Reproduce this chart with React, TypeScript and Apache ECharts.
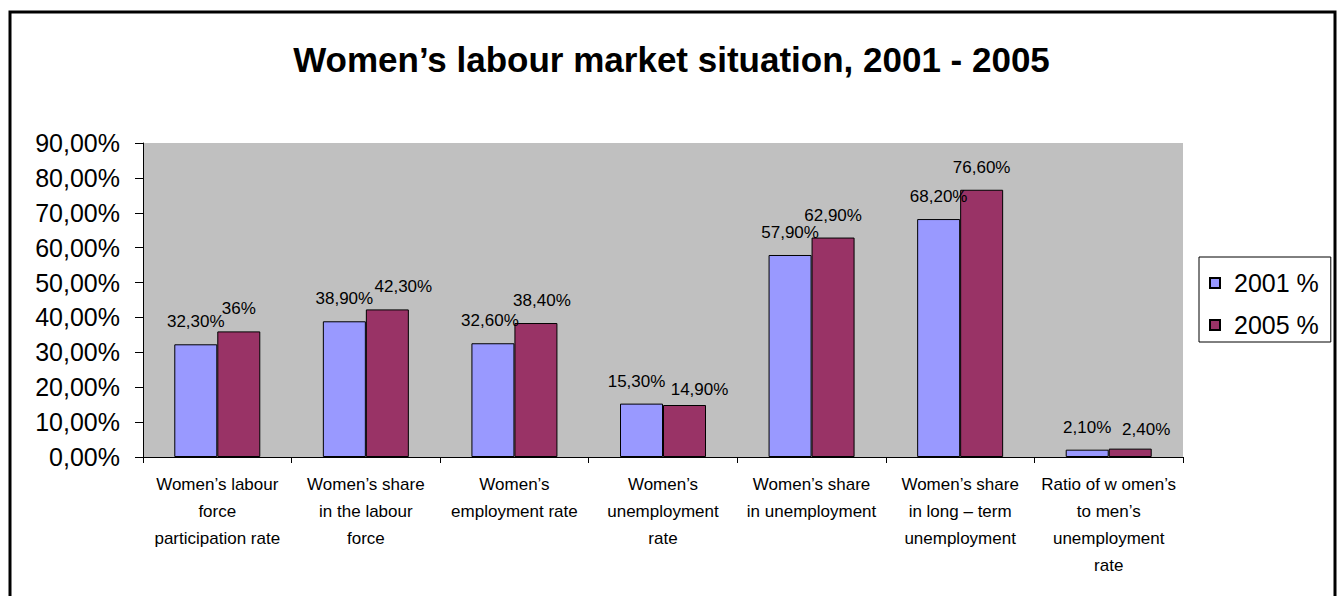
import React, { useEffect, useRef } from "react";
import * as echarts from "echarts";

const categories = [
  "Women\u2019s labour\nforce\nparticipation rate",
  "Women\u2019s share\nin the labour\nforce",
  "Women\u2019s\nemployment rate",
  "Women\u2019s\nunemployment\nrate",
  "Women\u2019s share\nin unemployment",
  "Women\u2019s share\nin long \u2013 term\nunemployment",
  "Ratio of w omen\u2019s\nto men\u2019s\nunemployment\nrate",
];
const series2001 = [32.3, 38.9, 32.6, 15.3, 57.9, 68.2, 2.1];
const series2005 = [36, 42.3, 38.4, 14.9, 62.9, 76.6, 2.4];
const seriesNames = ["2001 %", "2005 %"];
const yMin = 0;
const yMax = 90;
const yStep = 10;
const titleText = "Women\u2019s labour market situation, 2001 - 2005";

// label nudges (style only): [dx, dy] in pixels, mimicking the original's overlap handling
const labelNudge2001 = [[0, 0], [0, 0], [-3, 0], [-5, 0], [0, 0], [0, 0], [0, 0]];
const labelNudge2005 = [[0, 0], [16, 0], [6, 0], [15, 7], [0, 0], [0, 0], [16, 3]];

const FONT = "'Liberation Sans', Arial, sans-serif";

function fmtValue(v: number): string {
  if (Number.isInteger(v)) return `${v}%`;
  return v.toFixed(2).replace(".", ",") + "%";
}

export default function App() {
  const ref = useRef<HTMLDivElement>(null);
  useEffect(() => {
    if (!ref.current) return;
    const chart = echarts.init(ref.current, undefined, { renderer: "svg" });
    const label = {
      show: true,
      position: "top" as const,
      distance: 14,
      fontSize: 17,
      fontFamily: FONT,
      color: "#000",
      formatter: (p: any) => fmtValue(p.value),
    };
    const mk = (vals: number[], nudges: number[][]) =>
      vals.map((v, i) => ({ value: v, label: { offset: nudges[i] } }));
    chart.setOption({
      animation: false,
      backgroundColor: "#fff",
      textStyle: { fontFamily: FONT },
      title: {
        text: titleText,
        left: "center",
        top: 37,
        textStyle: { fontSize: 35, fontWeight: "bold", color: "#000", fontFamily: FONT },
      },
      graphic: [
        {
          type: "rect",
          shape: { x: 10, y: 12, width: 1325, height: 600 },
          style: { fill: "none", stroke: "#000", lineWidth: 3 },
          silent: true,
        },
      ],
      legend: {
        orient: "vertical",
        left: 1199,
        top: 257,
        padding: [13, 12, 4, 10],
        itemGap: 16,
        itemWidth: 10,
        itemHeight: 10,
        icon: "rect",
        borderColor: "#000",
        borderWidth: 1,
        textStyle: { fontSize: 25, lineHeight: 26, color: "#000", fontFamily: FONT, padding: [0, 0, 0, 9] },
        data: seriesNames,
      },
      grid: { left: 143, top: 143, right: 160, bottom: 139, show: true, backgroundColor: "#C0C0C0", borderWidth: 0 },
      xAxis: {
        type: "category",
        data: categories,
        axisLine: { show: true, lineStyle: { color: "#000", width: 1 } },
        axisTick: { show: true, alignWithLabel: false, length: 6, lineStyle: { color: "#000" } },
        axisLabel: {
          interval: 0,
          fontSize: 17,
          lineHeight: 27,
          margin: 14,
          color: "#000",
          fontFamily: FONT,
          align: "center",
        },
      },
      yAxis: {
        type: "value",
        min: yMin,
        max: yMax,
        interval: yStep,
        splitLine: { show: false },
        axisLine: { show: true, lineStyle: { color: "#000", width: 1 } },
        axisTick: { show: true, inside: false, length: 8, lineStyle: { color: "#000" } },
        axisLabel: {
          fontSize: 25,
          color: "#000",
          fontFamily: FONT,
          margin: 23,
          formatter: (v: number) => v.toFixed(2).replace(".", ",") + "%",
        },
      },
      series: [
        {
          name: seriesNames[0],
          type: "bar",
          data: mk(series2001, labelNudge2001),
          barWidth: 43,
          barGap: "0%",
          itemStyle: { color: "#9999FF", borderColor: "#000", borderWidth: 1 },
          label,
        },
        {
          name: seriesNames[1],
          type: "bar",
          data: mk(series2005, labelNudge2005),
          barWidth: 43,
          barGap: "0%",
          itemStyle: { color: "#993366", borderColor: "#000", borderWidth: 1 },
          label,
        },
      ],
    });
    return () => chart.dispose();
  }, []);
  return (
    <div
      ref={ref}
      style={{ position: "fixed", left: 0, top: 0, width: 1343, height: 596 }}
    />
  );
}
